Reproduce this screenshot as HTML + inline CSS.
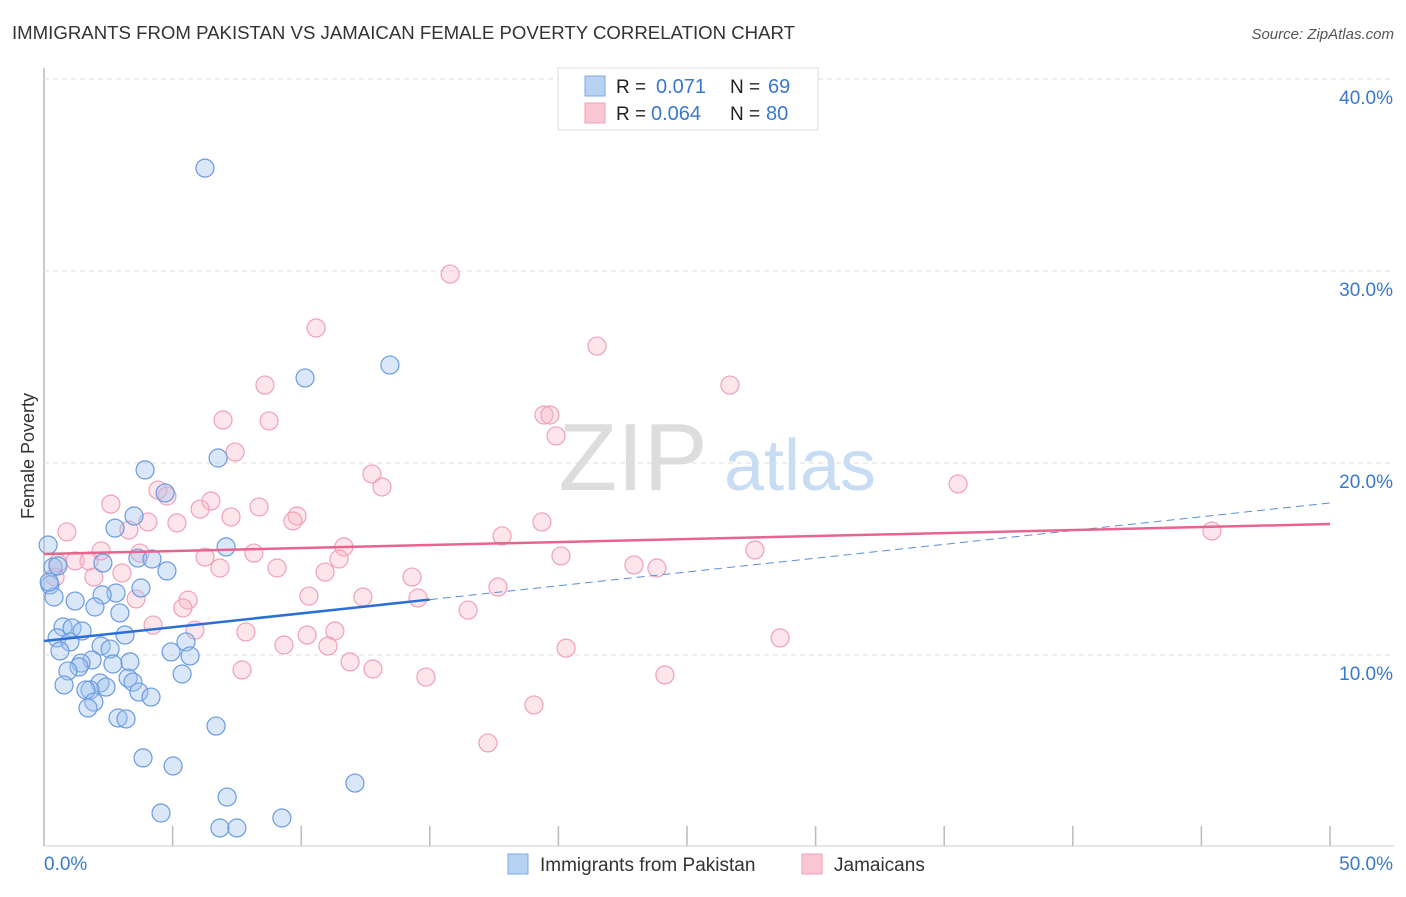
<!DOCTYPE html>
<html><head><meta charset="utf-8"><style>
body{margin:0;background:#fff;font-family:"Liberation Sans",sans-serif}
svg text{font-family:"Liberation Sans",sans-serif}
</style></head><body>
<svg id="c" width="1406" height="892" xmlns="http://www.w3.org/2000/svg">
<text x="12" y="39" font-size="18" fill="#333" textLength="783" lengthAdjust="spacingAndGlyphs">IMMIGRANTS FROM PAKISTAN VS JAMAICAN FEMALE POVERTY CORRELATION CHART</text>
<text x="1394" y="39" font-size="15" fill="#555" font-style="italic" text-anchor="end">Source: ZipAtlas.com</text>
<text x="34" y="456" font-size="18" fill="#333" text-anchor="middle" transform="rotate(-90 34 456)">Female Poverty</text>
<g><text x="633" y="490" font-size="96" fill="#ddd" text-anchor="middle" font-family="Liberation Serif">ZIP</text><text x="800" y="490" font-size="72" fill="#c8dcf3" text-anchor="middle">atlas</text></g>
<g id="grid"></g><g id="pts"></g><g id="lines"></g>
<g>
<rect x="558" y="68" width="260" height="62" fill="#fff" stroke="#ddd"/>
<rect x="585" y="76" width="20" height="20" fill="#b8d2f4" stroke="#7fa8e0"/>
<rect x="585" y="103" width="20" height="20" fill="#f9c6d4" stroke="#f0a0b8"/>
<text x="616" y="93" font-size="19" fill="#222">R =</text>
<text x="656" y="93" font-size="20" fill="#3a78d0">0.071</text>
<text x="730" y="93" font-size="19" fill="#222">N =</text>
<text x="768" y="93" font-size="20" fill="#3a78d0">69</text>
<text x="616" y="120" font-size="19" fill="#222">R =</text>
<text x="651" y="120" font-size="20" fill="#3a78d0">0.064</text>
<text x="730" y="120" font-size="19" fill="#222">N =</text>
<text x="766" y="120" font-size="20" fill="#3a78d0">80</text>
</g>
<g>
<rect x="508" y="854" width="20" height="20" fill="#b8d2f4" stroke="#7fa8e0"/>
<text x="540" y="871" font-size="19" fill="#333">Immigrants from Pakistan</text>
<rect x="802" y="854" width="20" height="20" fill="#f9c6d4" stroke="#f0a0b8"/>
<text x="834" y="871" font-size="19" fill="#333">Jamaicans</text>
</g>
</svg>
<script>
const blueX=[6.26,13.45,10.15,6.77,3.93,4.71,2.76,3.50,0.16,7.08,3.65,4.20,2.29,0.35,4.78,0.54,0.23,3.77,0.39,2.80,2.26,1.21,1.98,2.95,0.74,1.09,1.48,0.51,3.15,1.01,2.22,2.57,5.52,0.62,4.94,5.68,1.87,1.44,3.34,2.68,1.36,0.93,5.37,3.27,3.46,2.18,2.41,0.78,1.79,1.63,3.69,4.16,1.94,1.71,2.88,3.19,6.69,3.85,5.02,12.09,7.12,4.55,9.25,6.84,7.50,0.2];
const blueY=[35.36,25.10,24.43,20.26,19.64,18.44,16.61,17.24,15.73,15.63,15.05,15.00,14.79,14.58,14.38,14.64,13.65,13.49,13.02,13.23,13.13,12.81,12.50,12.19,11.46,11.41,11.25,10.89,11.04,10.68,10.47,10.31,10.68,10.21,10.16,9.95,9.74,9.58,9.64,9.53,9.38,9.17,9.01,8.80,8.59,8.54,8.33,8.44,8.18,8.18,8.07,7.81,7.55,7.24,6.72,6.67,6.30,4.64,4.22,3.33,2.60,1.77,1.51,0.99,0.99,13.8];
const pinkX=[15.79,10.58,21.50,26.67,8.59,6.96,8.75,19.44,19.67,19.91,7.43,12.75,35.54,13.14,4.43,4.78,6.49,2.60,8.36,6.07,7.27,9.84,4.04,5.17,9.68,19.36,0.89,3.30,17.81,45.41,11.66,27.64,3.73,2.22,8.16,20.10,6.26,11.47,1.21,1.75,0.54,6.84,9.06,22.94,23.83,3.03,1.94,0.43,10.93,14.31,17.65,10.30,12.40,3.58,5.60,14.54,5.40,16.49,4.24,5.87,7.85,11.31,10.23,28.62,11.04,9.33,20.30,11.90,7.70,12.79,24.14,14.85,19.05,17.26];
const pinkY=[29.84,27.03,26.09,24.06,24.06,22.24,22.19,22.50,22.50,21.41,20.57,19.43,18.91,18.75,18.59,18.28,18.02,17.86,17.71,17.60,17.19,17.24,16.93,16.88,16.98,16.93,16.41,16.51,16.20,16.46,15.63,15.47,15.31,15.42,15.31,15.16,15.10,15.00,14.90,14.90,14.79,14.53,14.53,14.69,14.53,14.27,14.06,14.06,14.32,14.06,13.54,13.07,13.02,12.92,12.86,12.97,12.45,12.34,11.56,11.30,11.20,11.25,11.04,10.89,10.47,10.52,10.36,9.64,9.22,9.27,8.96,8.85,7.40,5.42];
const yTicks=[10,20,30,40];
const yTickLabels=["10.0%","20.0%","30.0%","40.0%"];
const xTicks=[0,5,10,15,20,25,30,35,40,45,50];
const blueTrend=[10.73,17.92];
const pinkTrend=[15.26,16.82];
const NS="http://www.w3.org/2000/svg";
const X=v=>44+v*25.72, Y=v=>847-v*19.2;
function mk(t,a,p){const e=document.createElementNS(NS,t);for(const k in a)e.setAttribute(k,a[k]);p.appendChild(e);return e;}
const grid=document.getElementById('grid');
let ax=mk('line',{x1:44,y1:68,x2:44,y2:846,stroke:'#bbb','stroke-width':1.5},grid);


let bx=mk('line',{x1:44,y1:846,x2:1394,y2:846,stroke:'#ccc','stroke-width':1},grid);


yTicks.forEach((v,i)=>{
 const g=mk('line',{x1:44,y1:Y(v),x2:1394,y2:Y(v),stroke:'#ddd','stroke-dasharray':'5,4'},grid);
 
 
 const t=mk('text',{x:1393,y:Y(v)+25,'font-size':19,fill:'#3a78d0','text-anchor':'end'},grid);
 t.textContent=yTickLabels[i];
 
 
});
xTicks.forEach(v=>{
 if(v===0)return;
 const l=mk('line',{x1:X(v),y1:826,x2:X(v),y2:846,stroke:'#bbb','stroke-width':1.5},grid);
 
 
});
[["0.0%",44,'start'],["50.0%",1393,'end']].forEach(a=>{
 const t=mk('text',{x:a[1],y:870,'font-size':19,fill:'#3a78d0','text-anchor':a[2]},grid);
 t.textContent=a[0];
 
 
});
const pts=document.getElementById('pts');
pinkX.forEach((x,i)=>{
 const c=mk('circle',{cx:X(x),cy:Y(pinkY[i]),r:9,fill:'rgba(248,180,200,0.35)',stroke:'#f0a0b8','stroke-width':1.2},pts);
 
 
});
blueX.forEach((x,i)=>{
 const c=mk('circle',{cx:X(x),cy:Y(blueY[i]),r:9,fill:'rgba(160,196,240,0.4)',stroke:'#6a9be0','stroke-width':1.2},pts);
 
 
});
const lines=document.getElementById('lines');
const bAt=v=>blueTrend[0]+(blueTrend[1]-blueTrend[0])*v/50;
let l1=mk('line',{x1:X(0),y1:Y(bAt(0)),x2:X(15),y2:Y(bAt(15)),stroke:'#2a6fd6','stroke-width':2.5},lines);


let l2=mk('line',{x1:X(15),y1:Y(bAt(15)),x2:X(50),y2:Y(bAt(50)),stroke:'#5a8ed8','stroke-width':1,'stroke-dasharray':'8,5'},lines);


let l3=mk('line',{x1:X(0),y1:Y(pinkTrend[0]),x2:X(50),y2:Y(pinkTrend[1]),stroke:'#e8648e','stroke-width':2.5},lines);


</script>
</body></html>
